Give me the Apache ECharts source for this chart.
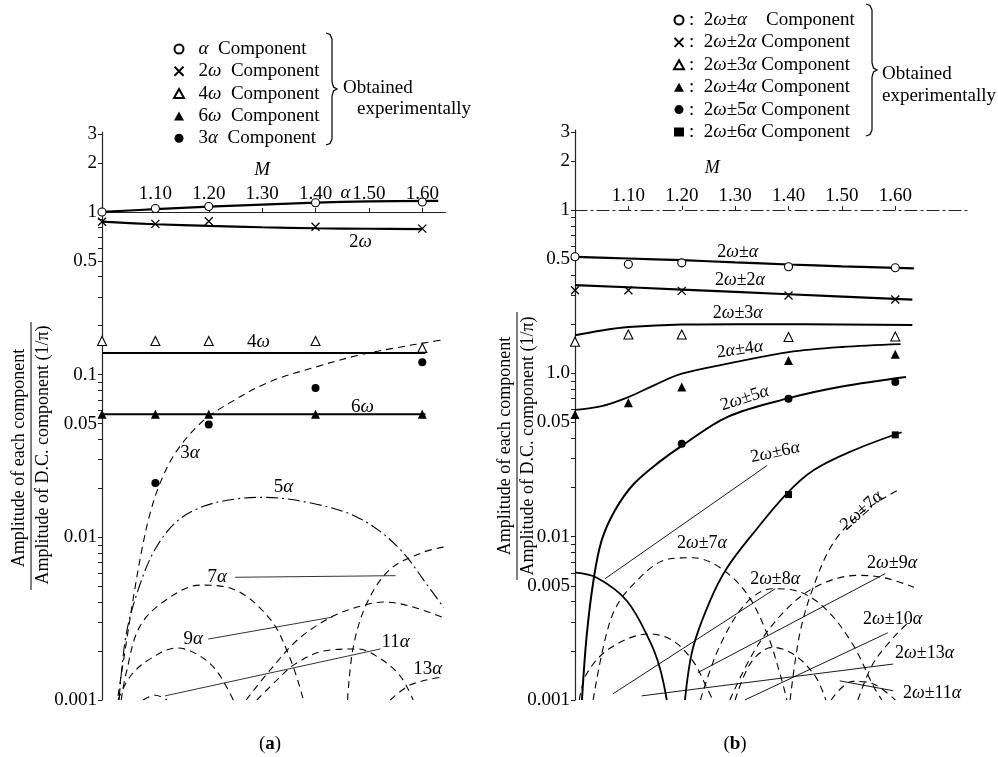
<!DOCTYPE html>
<html><head><meta charset="utf-8">
<script src="https://cdn.jsdelivr.net/npm/echarts@6/dist/echarts.min.js"></script>
<style>html,body{margin:0;padding:0;background:#fff}#c{width:998px;height:757px}</style>
</head><body><div id="c"></div>
<script>
// ---------------- Panel (a) data ----------------
const xTickM = [1.0, 1.1, 1.2, 1.3, 1.4, 1.5, 1.6];
const xLabelM = [1.1, 1.2, 1.3, 1.4, 1.5, 1.6];
const yTickVals = [0.001,0.002,0.003,0.004,0.005,0.006,0.007,0.008,0.009,
  0.01,0.02,0.03,0.04,0.05,0.06,0.07,0.08,0.09,
  0.1,0.2,0.3,0.4,0.5,0.6,0.7,0.8,0.9,1,2,3];
const yLabelValsA = [0.001, 0.01, 0.05, 0.1, 0.5, 1, 2, 3];
const yLabelTextA = ['0.001', '0.01', '0.05', '0.1', '0.5', '1', '2', '3'];
const yLabelValsB = [0.001, 0.005, 0.01, 0.05, 0.1, 0.5, 1, 2, 3];
const yLabelTextB = ['0.001', '0.005', '0.01', '0.05', '1.0', '0.5', '1', '2', '3'];

const expM_A = [1.0, 1.1, 1.2, 1.4, 1.6];
const expAlphaA = [1.0, 1.05, 1.08, 1.14, 1.15];
const exp2wA = [0.87, 0.845, 0.877, 0.81, 0.79];
const exp4wA = [0.161, 0.161, 0.161, 0.161, 0.146];
const exp6wA = [0.057, 0.057, 0.057, 0.057, 0.057];
const exp3aM_A = [1.1, 1.2, 1.4, 1.6];
const exp3aA = [0.0216, 0.0493, 0.0828, 0.119];

const curveAlphaA = [[1.0,1.0],[1.1,1.04],[1.2,1.077],[1.3,1.11],[1.4,1.14],[1.5,1.16],[1.63,1.17]];
const curve2wA = [[1.0,0.872],[1.1,0.84],[1.2,0.82],[1.3,0.805],[1.4,0.794],[1.5,0.788],[1.6,0.783]];
const curve4wA = [[1.0,0.136],[1.606,0.136]];
const curve6wA = [[1.0,0.057],[1.606,0.057]];
const curve3aA = [[1.03,0.00106],[1.045,0.0022],[1.06,0.0045],[1.075,0.0085],[1.09,0.014],[1.11,0.022],[1.14,0.034],[1.188,0.0515],[1.24,0.0673],[1.315,0.0906],[1.403,0.112],[1.478,0.131],[1.55,0.146],[1.615,0.159],[1.64,0.164]];
const curve5aA = [[1.032,0.001],[1.045,0.0025],[1.07,0.005],[1.10,0.0085],[1.14,0.0125],[1.19,0.0155],[1.25,0.0172],[1.30,0.0176],[1.385,0.0164],[1.478,0.0133],[1.553,0.0088],[1.615,0.0048],[1.64,0.0037]];
const curve7aA1 = [[1.036,0.001],[1.045,0.00145],[1.071,0.00284],[1.122,0.00417],[1.184,0.00508],[1.246,0.0048],[1.315,0.00314],[1.353,0.00178],[1.377,0.00101]];
const curve7aA2 = [[1.46,0.001],[1.471,0.00214],[1.497,0.00399],[1.54,0.00637],[1.602,0.0081],[1.64,0.0087]];
const curve9aA1 = [[1.03,0.001],[1.053,0.0014],[1.09,0.00179],[1.141,0.00209],[1.184,0.00186],[1.216,0.00149],[1.246,0.001]];
const curve9aA2 = [[1.27,0.001],[1.32,0.0016],[1.37,0.0024],[1.433,0.00328],[1.484,0.00377],[1.527,0.0040],[1.578,0.00377],[1.64,0.0032]];
const curve11aA1 = [[1.077,0.001],[1.1,0.00107],[1.122,0.001]];
const curve11aA2 = [[1.29,0.001],[1.33,0.00135],[1.36,0.00165],[1.415,0.0020],[1.478,0.00206],[1.522,0.00179],[1.559,0.0014],[1.583,0.001]];
const curve13aA = [[1.54,0.001],[1.578,0.00124],[1.635,0.00138]];
const leadersA = [
  [[1.2495,0.00568],[1.55,0.00581]],
  [[1.199,0.00237],[1.4315,0.00323]],
  [[1.118,0.00106],[1.5216,0.00206]]
];
const labelTextA = ['M', 'α', '2ω', '4ω', '6ω', '3α', '5α', '7α', '9α', '11α', '13α'];
const labelAtA = [[1.30,1.81],[1.456,1.31],[1.484,0.655],[1.293,0.159],[1.488,0.0636],[1.165,0.0332],[1.34,0.0203],[1.216,0.00568],[1.171,0.00237],[1.55,0.00227],[1.61,0.00155]];

// ---------------- Panel (b) data ----------------
const expM_B = [1.0, 1.1, 1.2, 1.4, 1.6];
const exp1B = [0.517, 0.466, 0.475, 0.449, 0.443];
const exp2B = [0.323, 0.323, 0.32, 0.30, 0.283];
const exp3B = [0.156, 0.173, 0.173, 0.167, 0.168];
const exp4B = [0.056, 0.066, 0.0824, 0.12, 0.131];
const exp5M_B = [1.2, 1.4, 1.6];
const exp5B = [0.037, 0.070, 0.0885];
const exp6M_B = [1.4, 1.6];
const exp6B = [0.0181, 0.042];

const curve1B = [[1.0,0.517],[1.1,0.505],[1.2,0.493],[1.3,0.478],[1.4,0.464],[1.5,0.452],[1.635,0.439]];
const curve2B = [[1.0,0.347],[1.2,0.326],[1.4,0.305],[1.632,0.283]];
const curve3B = [[1.0,0.171],[1.05,0.183],[1.1,0.192],[1.2,0.199],[1.3,0.2],[1.632,0.198]];
const curve4B = [[1.0,0.0598],[1.05,0.063],[1.1,0.0716],[1.15,0.085],[1.2,0.0995],[1.3,0.117],[1.4,0.135],[1.5,0.145],[1.61,0.151]];
const curve5B = [[1.013,0.001],[1.022,0.0025],[1.035,0.0055],[1.05,0.0095],[1.075,0.0145],[1.11,0.021],[1.16,0.029],[1.2,0.036],[1.285,0.054],[1.397,0.070],[1.5,0.083],[1.62,0.095]];
const curve6B1 = [[1.0,0.00604],[1.041,0.0056],[1.097,0.00405],[1.14,0.0023],[1.159,0.00157],[1.172,0.001]];
const curve6B2 = [[1.206,0.001],[1.221,0.00208],[1.253,0.00405],[1.285,0.00645],[1.333,0.0104],[1.395,0.0181],[1.446,0.0254],[1.521,0.0337],[1.612,0.0436]];
const curve7B1 = [[1.034,0.001],[1.066,0.00305],[1.103,0.00486],[1.178,0.00733],[1.221,0.00743],[1.272,0.00645],[1.322,0.00447],[1.36,0.00254],[1.384,0.00145],[1.397,0.001]];
const curve7B2 = [[1.403,0.001],[1.421,0.00254],[1.446,0.00486],[1.483,0.00906],[1.534,0.0138],[1.603,0.0191]];
const curve8B1 = [[1.008,0.001],[1.022,0.00145],[1.066,0.00208],[1.14,0.00254],[1.184,0.0023],[1.221,0.00173],[1.247,0.00119],[1.258,0.001]];
const curve8B2 = [[1.235,0.001],[1.27,0.0021],[1.32,0.0039],[1.37,0.0048],[1.42,0.0046],[1.47,0.0036],[1.52,0.0022],[1.56,0.0012],[1.575,0.001]];
const curve9B = [[1.29,0.001],[1.34,0.0021],[1.40,0.0037],[1.46,0.0051],[1.53,0.0058],[1.58,0.0056],[1.635,0.0049]];
const curve10B1 = [[1.30,0.001],[1.33,0.0017],[1.37,0.0021],[1.41,0.0019],[1.45,0.0014],[1.47,0.001]];
const curve10B2 = [[1.53,0.001],[1.558,0.00166],[1.596,0.0024],[1.63,0.0031]];
const curve11B = [[1.48,0.001],[1.52,0.0013],[1.56,0.00125],[1.60,0.001]];
const leadersB = [
  [[1.056,0.00552],[1.360,0.0273]],
  [[1.071,0.00109],[1.375,0.0048]],
  [[1.230,0.00147],[1.581,0.00593]],
  [[1.318,0.001],[1.586,0.00258]],
  [[1.125,0.00106],[1.596,0.00166]],
  [[1.496,0.00131],[1.596,0.00114]]
];
const labelTextB = ['M','2ω±α','2ω±2α','2ω±3α','2α±4α','2ω±5α','2ω±6α','2ω±7α','2ω±7α','2ω±8α','2ω±9α','2ω±10α','2ω±13α','2ω±11α'];
const labelAtB = [[1.257,1.81],[1.305,0.552],[1.309,0.372],[1.305,0.233],[1.309,0.140],[1.318,0.0703],[1.375,0.0328],[1.238,0.00906],[1.537,0.01445],[1.375,0.00552],[1.594,0.00692],[1.595,0.00314],[1.655,0.00192],[1.669,0.0011]];
const labelRotB = [0,0,0,0,8,18,12,0,42,0,0,0,0,0];

// ---------------- build ----------------
const FONT = '"Liberation Serif","DejaVu Serif",serif';
const INK = '#000';
const zip = (xs, ys) => xs.map((x, i) => [x, ys[i]]);
const greek = s => s.replace(/([αωπ])/g, '{i|$1}');
const richI = (fs) => ({ i: { fontStyle: 'italic', fontFamily: FONT, fontSize: fs, color: INK } });

function curve(name, data, gi, type, width) {
  return { type: 'line', name, xAxisIndex: gi, yAxisIndex: gi, data, showSymbol: false, smooth: 0.35,
    silent: true, z: 2, lineStyle: { color: INK, width: width, type: type } };
}
function marker(name, data, gi, symbol, size, empty) {
  const s = { type: 'scatter', name, xAxisIndex: gi, yAxisIndex: gi, data, symbol, symbolSize: size, z: 5, silent: true };
  if (symbol.indexOf('path://') === 0) {
    s.itemStyle = { color: 'none', borderColor: INK, borderWidth: 1.3, opacity: 1 };
  } else if (empty) {
    s.itemStyle = { color: '#fff', borderColor: INK, borderWidth: 1.1, opacity: 1 };
  } else {
    s.itemStyle = { color: INK, opacity: 1 };
  }
  return s;
}
function labels(texts, at, rots, gi, fs) {
  return { type: 'scatter', xAxisIndex: gi, yAxisIndex: gi, symbolSize: 1, silent: true, z: 6,
    itemStyle: { color: 'transparent', opacity: 1 },
    data: texts.map((t, i) => ({ name: t, value: at[i], label: { rotate: rots ? rots[i] : 0 } })),
    label: { show: true, position: 'inside', color: INK, fontFamily: FONT, fontSize: fs,
      formatter: p => p.name === 'M' ? '{i|M}' : greek(p.name), rich: richI(fs) } };
}
function labelFmt(vals, texts) {
  return v => {
    for (let i = 0; i < vals.length; i++) if (Math.abs(Math.log10(vals[i]) - Math.log10(v)) < 1e-4) return texts[i];
    return '';
  };
}
const DASH = [7, 5], DASHDOT = [12, 4, 2, 4];
const CROSS = 'path://M0,0L10,10M10,0L0,10';

const series = [
  curve('cα', curveAlphaA, 0, 'solid', 2.2),
  curve('c2ω', curve2wA, 0, 'solid', 2.2),
  curve('c4ω', curve4wA, 0, 'solid', 2),
  curve('c6ω', curve6wA, 0, 'solid', 2),
  curve('c3α', curve3aA, 0, DASH, 1.1),
  curve('c5α', curve5aA, 0, DASHDOT, 1.1),
  curve('c7α1', curve7aA1, 0, DASH, 1.1),
  curve('c7α2', curve7aA2, 0, DASH, 1.1),
  curve('c9α1', curve9aA1, 0, DASH, 1.1),
  curve('c9α2', curve9aA2, 0, DASH, 1.1),
  curve('c11α1', curve11aA1, 0, DASH, 1.1),
  curve('c11α2', curve11aA2, 0, DASH, 1.1),
  curve('c13α', curve13aA, 0, DASH, 1.1),
  ...leadersA.map((d, i) => Object.assign(curve('la' + i, d, 0, 'solid', 0.8), { smooth: false })),
  marker('α Component', zip(expM_A, expAlphaA), 0, 'circle', 8, true),
  marker('2ω Component', zip(expM_A, exp2wA), 0, CROSS, 8),
  marker('4ω Component', zip(expM_A, exp4wA), 0, 'triangle', 9, true),
  marker('6ω Component', zip(expM_A, exp6wA), 0, 'triangle', 9),
  marker('3α Component', zip(exp3aM_A, exp3aA), 0, 'circle', 8),
  labels(labelTextA, labelAtA, null, 0, 19),

  curve('b1', curve1B, 1, 'solid', 2.2),
  curve('b2', curve2B, 1, 'solid', 2.2),
  curve('b3', curve3B, 1, 'solid', 2),
  curve('b4', curve4B, 1, 'solid', 1.8),
  curve('b5', curve5B, 1, 'solid', 2),
  curve('b61', curve6B1, 1, 'solid', 1.8),
  curve('b62', curve6B2, 1, 'solid', 1.8),
  curve('b71', curve7B1, 1, DASH, 1.1),
  curve('b72', curve7B2, 1, DASH, 1.1),
  curve('b81', curve8B1, 1, DASH, 1.1),
  curve('b82', curve8B2, 1, DASH, 1.1),
  curve('b9', curve9B, 1, DASH, 1.1),
  curve('b101', curve10B1, 1, DASH, 1.1),
  curve('b102', curve10B2, 1, DASH, 1.1),
  curve('b11', curve11B, 1, DASH, 1.1),
  ...leadersB.map((d, i) => Object.assign(curve('lb' + i, d, 1, 'solid', 0.9), { smooth: false })),
  marker('2ω±α Component', zip(expM_B, exp1B), 1, 'circle', 8, true),
  marker('2ω±2α Component', zip(expM_B, exp2B), 1, CROSS, 8),
  marker('2ω±3α Component', zip(expM_B, exp3B), 1, 'triangle', 9, true),
  marker('2ω±4α Component', zip(expM_B, exp4B), 1, 'triangle', 9),
  marker('2ω±5α Component', zip(exp5M_B, exp5B), 1, 'circle', 8),
  marker('2ω±6α Component', zip(exp6M_B, exp6B), 1, 'rect', 7),
  labels(labelTextB, labelAtB, labelRotB, 1, 18)
];

function yAxis(gi, max, vals, texts) {
  return { type: 'log', logBase: 10, gridIndex: gi, min: 0.001, max: max,
    axisLine: { show: true, lineStyle: { color: '#222', width: 1.2 } },
    axisTick: { show: true, length: 4, customValues: yTickVals, lineStyle: { color: '#222' } },
    minorTick: { show: false }, splitLine: { show: false },
    axisLabel: { show: true, customValues: vals, formatter: labelFmt(vals, texts), color: INK,
      fontFamily: FONT, fontSize: 19, margin: 5 } };
}
function xAxis(gi, max, lineType, margin) {
  return { type: 'value', gridIndex: gi, min: 1.0, max: max, position: 'top', offset: -80,
    axisLine: { show: true, onZero: false, lineStyle: { color: '#222', width: 1.1, type: lineType } },
    axisTick: { show: true, length: 4, inside: false, customValues: xTickM, lineStyle: { color: '#222' } },
    splitLine: { show: false },
    axisLabel: { show: true, customValues: xLabelM, formatter: v => v.toFixed(2), color: INK,
      fontFamily: FONT, fontSize: 19, margin: margin } };
}
const legendText = () => ({
  color: INK, fontFamily: FONT, fontSize: 19, lineHeight: 20, rich: { i: { fontStyle: 'italic', fontFamily: FONT, fontSize: 19, lineHeight: 20, color: INK } }
});
function txt(x, y, text, fs) {
  return { type: 'text', x, y, silent: true, style: { text, font: fs + 'px ' + FONT, fill: INK,
    align: 'left', verticalAlign: 'middle', textAlign: 'left', textVerticalAlign: 'middle' } };
}
function vtitle(x, y, text) {
  return { type: 'text', x, y, rotation: Math.PI / 2, silent: true,
    style: { text, font: '18px ' + FONT, fill: INK, align: 'center', verticalAlign: 'middle', textAlign: 'center', textVerticalAlign: 'middle' } };
}
function brace(x, y0, ym, y1) {
  return { type: 'polyline', silent: true,
    shape: { points: [[x, y0], [x + 4, y0 + 1.5], [x + 6, y0 + 6], [x + 6, ym - 7], [x + 7.5, ym - 2], [x + 11, ym],
      [x + 7.5, ym + 2], [x + 6, ym + 7], [x + 6, y1 - 6], [x + 4, y1 - 1.5], [x, y1]] },
    style: { fill: 'none', stroke: INK, lineWidth: 1.2 } };
}

const option = {
  animation: false,
  backgroundColor: '#fff',
  grid: [
    { left: 102, top: 132, width: 343.5, height: 568 },
    { left: 575, top: 130, width: 395, height: 570 }
  ],
  xAxis: [xAxis(0, 1.6435, 'solid', 8), xAxis(1, 1.74, DASHDOT, 4)],
  yAxis: [yAxis(0, 3.1, yLabelValsA, yLabelTextA), yAxis(1, 3.09, yLabelValsB, yLabelTextB)],
  legend: [
    { orient: 'vertical', left: 167, top: 34, itemWidth: 10, itemHeight: 9, itemGap: 2.3, selectedMode: false,
      data: ['α Component', '2ω Component', '4ω Component', '6ω Component', '3α Component'],
      formatter: n => '  ' + greek(n.replace(' Component', '')) + '  Component', textStyle: legendText() },
    { orient: 'vertical', left: 667, top: 5, itemWidth: 10, itemHeight: 9, itemGap: 2.4, selectedMode: false,
      data: ['2ω±α Component', '2ω±2α Component', '2ω±3α Component', '2ω±4α Component', '2ω±5α Component', '2ω±6α Component'],
      formatter: n => ':  ' + greek(n.replace(' Component', '')) + (n === '2ω±α Component' ? '    ' : ' ') + 'Component', textStyle: legendText() }
  ],
  graphic: [
    vtitle(19, 458, 'Amplitude of each component'),
    vtitle(43, 455, 'Amplitude of D.C. component (1/π)'),
    { type: 'line', silent: true, shape: { x1: 31, y1: 322, x2: 31, y2: 590 }, style: { stroke: INK, lineWidth: 1 } },
    vtitle(505, 446, 'Amplitude of each component'),
    vtitle(528, 446, 'Amplitude of D.C. component (1/π)'),
    { type: 'line', silent: true, shape: { x1: 517, y1: 312, x2: 517, y2: 580 }, style: { stroke: INK, lineWidth: 1 } },
    brace(326, 33, 89, 145),
    brace(866, 4, 70, 136),
    txt(343, 88, 'Obtained', 19),
    txt(357, 109, 'experimentally', 19),
    txt(882, 74, 'Obtained', 19),
    txt(882, 96, 'experimentally', 19),
    { type: 'text', x: 270, y: 744, silent: true, style: { text: '({b|a})', font: '19px ' + FONT, fill: INK, align: 'center', verticalAlign: 'middle', textAlign: 'center', textVerticalAlign: 'middle',
      rich: { b: { fontWeight: 'bold', fontFamily: FONT, fontSize: 19 } } } },
    { type: 'text', x: 735, y: 744, silent: true, style: { text: '({b|b})', font: '19px ' + FONT, fill: INK, align: 'center', verticalAlign: 'middle', textAlign: 'center', textVerticalAlign: 'middle',
      rich: { b: { fontWeight: 'bold', fontFamily: FONT, fontSize: 19 } } } }
  ],
  series: series
};
const chart = echarts.init(document.getElementById('c'), null, { renderer: 'canvas' });
chart.setOption(option);
</script></body></html>
